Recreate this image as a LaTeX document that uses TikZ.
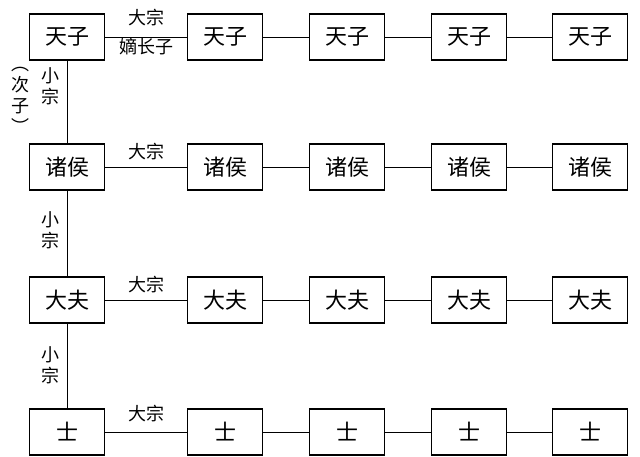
\documentclass[tikz,border=0pt]{standalone}
\usepackage{fontspec}
\setmainfont{Noto Sans CJK SC}
\begin{document}
\begin{tikzpicture}[x=1pt,y=-1pt,
 box/.style={draw,line width=1.1pt,minimum width=75pt,minimum height=46pt,inner sep=0pt,font=\fontsize{22}{22}\selectfont},
 lab/.style={inner sep=0pt,font=\fontsize{18}{21}\selectfont,align=center},
 ln/.style={line width=0.8pt}]
\useasboundingbox (0,0) rectangle (640,457);
\foreach \r/\y/\t in {1/37/天子,2/167/诸侯,3/300/大夫,4/432/士}{
 \foreach \c/\x in {1/67,2/225,3/347,4/469,5/590}{
  \node[box] (n\r\c) at (\x,\y) {\t};
 }
 \draw[ln] (n\r1)--(n\r2) (n\r2)--(n\r3) (n\r3)--(n\r4) (n\r4)--(n\r5);
}
\draw[ln] (n11)--(n21) (n21)--(n31) (n31)--(n41);
\node[lab] (a1) at (146,18) {大宗};
\node[lab] (b1) at (146,47) {嫡长子};
\node[lab] (a2) at (146,152) {大宗};
\node[lab] (a3) at (146,285) {大宗};
\node[lab] (a4) at (146,414) {大宗};
\node[lab] (v1) at (50,86) {小\\宗};
\node[lab] (v0) at (21,100) {︵\\次\\子\\︶};
\node[lab] (v2) at (50,230) {小\\宗};
\node[lab] (v3) at (50,365) {小\\宗};
\end{tikzpicture}
\end{document}
